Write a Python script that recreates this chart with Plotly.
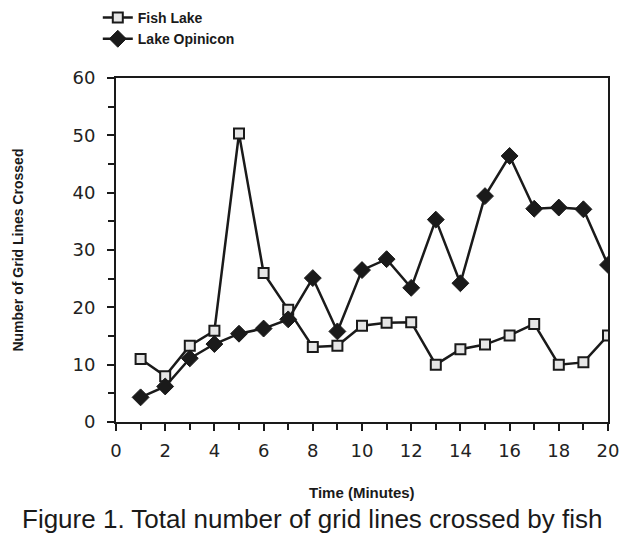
import plotly.graph_objects as go

# minutes 1..20
minutes = list(range(1, 21))

# values
fish_lake = [11.0, 8.0, 13.3, 15.9, 50.3, 26.0, 19.6, 13.1, 13.3, 16.8,
             17.3, 17.4, 10.0, 12.7, 13.5, 15.1, 17.1, 10.0, 10.4, 15.1]
lake_opinicon = [4.3, 6.2, 11.1, 13.6, 15.4, 16.3, 17.9, 25.1, 15.8, 26.5,
                 28.4, 23.4, 35.3, 24.2, 39.4, 46.4, 37.2, 37.4, 37.1, 27.4]

ink = "#1a1a1a"

fig = go.Figure()

fig.add_trace(go.Scatter(
    x=minutes, y=fish_lake, name="Fish Lake", mode="lines+markers",
    line=dict(color=ink, width=2.5),
    marker=dict(symbol="square", size=10, color="#e6e6e6",
                line=dict(color=ink, width=2))
))

fig.add_trace(go.Scatter(
    x=minutes, y=lake_opinicon, name="Lake Opinicon", mode="lines+markers",
    line=dict(color=ink, width=2.5),
    marker=dict(symbol="diamond", size=13, color=ink,
                line=dict(color=ink, width=1))
))

tick_font = dict(family="DejaVu Sans", size=18, color="#222")

fig.update_xaxes(range=[0, 20], dtick=2, tick0=0, automargin=False,
                 showline=True, linecolor=ink, linewidth=2, mirror=True,
                 ticks="outside", ticklen=7, tickwidth=2, tickcolor=ink,
                 minor=dict(dtick=1, ticks="outside", ticklen=6, tickwidth=2, tickcolor=ink),
                 showgrid=False, zeroline=False, tickfont=tick_font,
                 ticklabelstandoff=4)

fig.update_yaxes(range=[0, 60], dtick=10, tick0=0, automargin=False,
                 showline=True, linecolor=ink, linewidth=2, mirror=True,
                 ticks="outside", ticklen=7, tickwidth=2, tickcolor=ink,
                 minor=dict(dtick=5, ticks="outside", ticklen=6, tickwidth=2, tickcolor=ink),
                 showgrid=False, zeroline=False, tickfont=tick_font,
                 ticklabelstandoff=8)

# axis titles and the caption under the chart
fig.add_annotation(text="<b>Number of Grid Lines Crossed</b>", textangle=-90,
                   xref="paper", yref="paper", x=-0.2, y=0.5,
                   xanchor="center", yanchor="middle", showarrow=False,
                   font=dict(family="Liberation Sans", size=14, color=ink))
fig.add_annotation(text="<b>Time (Minutes)</b>",
                   xref="paper", yref="paper", x=0.5, y=-0.205,
                   xanchor="center", yanchor="middle", showarrow=False,
                   font=dict(family="Liberation Sans", size=15, color=ink))
fig.add_annotation(text="Figure 1. Total number of grid lines crossed by fish",
                   xref="paper", yref="paper", x=-0.195, y=-0.33,
                   xanchor="left", yanchor="bottom", showarrow=False,
                   font=dict(family="Liberation Sans", size=26, color=ink))

fig.update_layout(
    width=630, height=538,
    margin=dict(l=116, r=22, t=78, b=116, autoexpand=False),
    paper_bgcolor="#fff", plot_bgcolor="#fff",
    showlegend=True,
    legend=dict(x=-0.037, y=1.221, xanchor="left", yanchor="top",
                bgcolor="rgba(0,0,0,0)", itemwidth=30, tracegroupgap=0,
                font=dict(family="Liberation Sans", size=14, color=ink, weight=700),
                itemsizing="trace")
)

# the page body has a default 8px margin, drop it so the chart fills the window
fig.write_html("out.html", config={"displayModeBar": False},
               post_script="document.body.style.margin='0';")
